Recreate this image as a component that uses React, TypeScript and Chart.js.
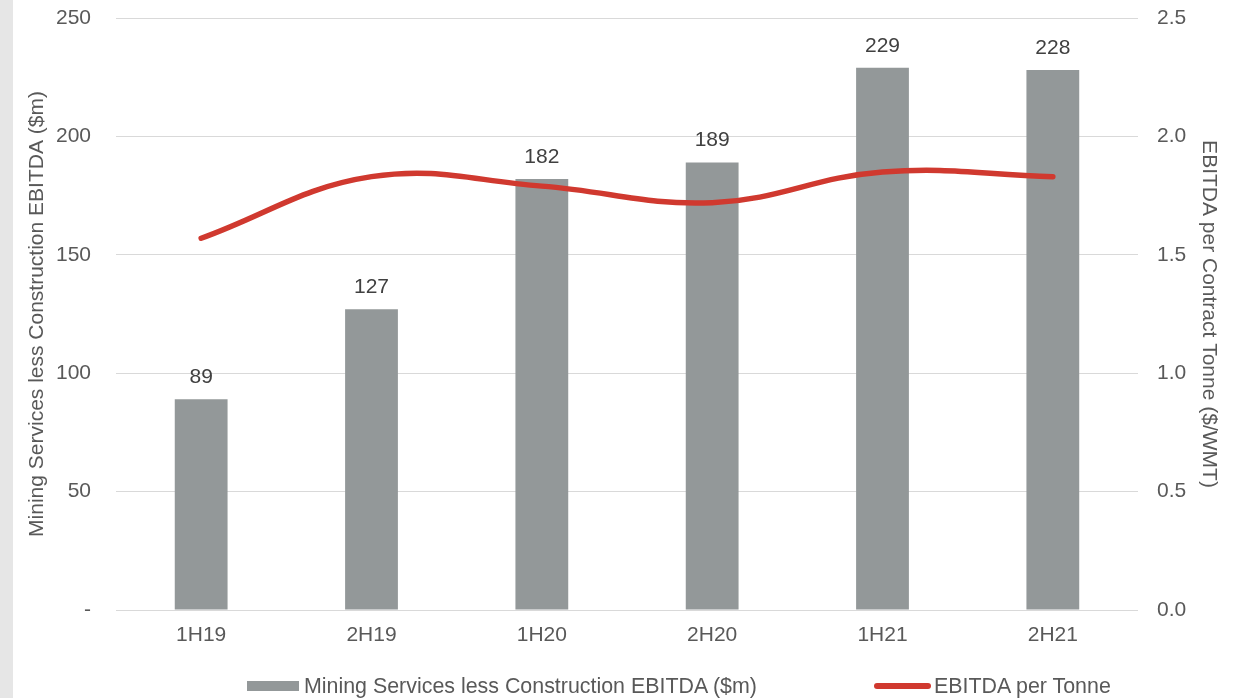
import React, { useEffect, useRef } from "react";
import { Chart, registerables } from "chart.js";

Chart.register(...registerables);

const categories = ["1H19", "2H19", "1H20", "2H20", "1H21", "2H21"];
const ebitdaValues = [89, 127, 182, 189, 229, 228];
const perTonneValues = [1.57, 1.83, 1.79, 1.72, 1.85, 1.83];
const barLabel = "Mining Services less Construction EBITDA ($m)";
const lineLabel = "EBITDA per Tonne";
const leftTitle = "Mining Services less Construction EBITDA ($m)";
const rightTitle = "EBITDA per Contract Tonne ($/WMT)";

const FONT = "'Liberation Sans', Arial, sans-serif";
const BAR_COLOR = "#939899";
const LINE_COLOR = "#d0392f";
const TICK_COLOR = "#595959";

const valueLabels = {
  id: "valueLabels",
  afterDatasetsDraw(chart: any) {
    const meta = chart.getDatasetMeta(1);
    const ctx = chart.ctx;
    ctx.save();
    ctx.font = `21px ${FONT}`;
    ctx.fillStyle = "#404040";
    ctx.textAlign = "center";
    ctx.textBaseline = "alphabetic";
    meta.data.forEach((el: any, i: number) => {
      ctx.fillText(String(ebitdaValues[i]), el.x, el.y - 16);
    });
    ctx.restore();
  },
};

const fitVertical = (s: any) => {
  s.width = 102;
  s.paddingTop = 0;
  s.paddingBottom = 0;
};

export default function App() {
  const ref = useRef<HTMLCanvasElement | null>(null);
  useEffect(() => {
    if (!ref.current) return;
    const chart = new Chart(ref.current, {
      type: "bar",
      data: {
        labels: categories,
        datasets: [
          {
            type: "line",
            label: lineLabel,
            data: perTonneValues,
            yAxisID: "y1",
            borderColor: LINE_COLOR,
            backgroundColor: LINE_COLOR,
            borderWidth: 5.5,
            borderCapStyle: "round",
            pointRadius: 0,
            tension: 0.4,
            order: 0,
          } as any,
          {
            type: "bar",
            label: barLabel,
            data: ebitdaValues,
            yAxisID: "y",
            backgroundColor: BAR_COLOR,
            barPercentage: 0.31,
            categoryPercentage: 1,
            order: 1,
          },
        ],
      },
      plugins: [valueLabels],
      options: {
        animation: false,
        responsive: false,
        maintainAspectRatio: false,
        layout: { padding: { left: 14, right: 0, top: 18, bottom: 0 } },
        plugins: { legend: { display: false }, tooltip: { enabled: false } },
        scales: {
          x: {
            grid: { display: false, drawTicks: false },
            border: { display: false },
            ticks: { color: TICK_COLOR, font: { size: 21, family: FONT }, padding: 13 },
            afterFit: (s: any) => {
              s.height = 88;
              s.paddingLeft = 0;
              s.paddingRight = 0;
            },
          },
          y: {
            position: "left",
            min: 0,
            max: 250,
            grid: { color: "#d9d9d9", lineWidth: 1, drawTicks: false },
            border: { display: false },
            ticks: {
              stepSize: 50,
              color: TICK_COLOR,
              font: { size: 21, family: FONT },
              padding: 25,
              callback: (v: any) => (v === 0 ? "-" : String(v)),
            },
            title: {
              display: true,
              text: leftTitle,
              color: TICK_COLOR,
              font: { size: 21, family: FONT },
              padding: { top: 11, bottom: 0 },
            },
            afterFit: fitVertical,
          },
          y1: {
            position: "right",
            min: 0,
            max: 2.5,
            grid: { display: false, drawTicks: false },
            border: { display: false },
            ticks: {
              stepSize: 0.5,
              color: TICK_COLOR,
              font: { size: 21, family: FONT },
              padding: 19,
              callback: (v: any) => Number(v).toFixed(1),
            },
            title: {
              display: true,
              text: rightTitle,
              color: TICK_COLOR,
              font: { size: 21, family: FONT },
              padding: { top: 19, bottom: 0 },
            },
            afterFit: fitVertical,
          },
        },
      },
    });
    return () => chart.destroy();
  }, []);

  return (
    <div style={{ position: "fixed", left: 0, top: 0, width: 1240, height: 698, background: "#fff", overflow: "hidden" }}>
      <canvas ref={ref} width={1240} height={698} style={{ position: "absolute", left: 0, top: 0, width: 1240, height: 698 }} />
      <div style={{ position: "absolute", left: 0, top: 0, width: 13, height: 698, background: "#e6e6e6" }} />
      <div
        style={{
          position: "absolute",
          left: 0,
          top: 674,
          width: 1240,
          height: 24,
          fontFamily: FONT,
          fontSize: 21.4,
          color: TICK_COLOR,
          lineHeight: "24px",
          whiteSpace: "nowrap",
        }}
      >
        <span style={{ position: "absolute", left: 247, top: 7, width: 52, height: 10, background: BAR_COLOR }} />
        <span style={{ position: "absolute", left: 304, top: 0 }}>{barLabel}</span>
        <span style={{ position: "absolute", left: 874, top: 9, width: 57, height: 6, borderRadius: 3, background: LINE_COLOR }} />
        <span style={{ position: "absolute", left: 934, top: 0 }}>{lineLabel}</span>
      </div>
    </div>
  );
}
